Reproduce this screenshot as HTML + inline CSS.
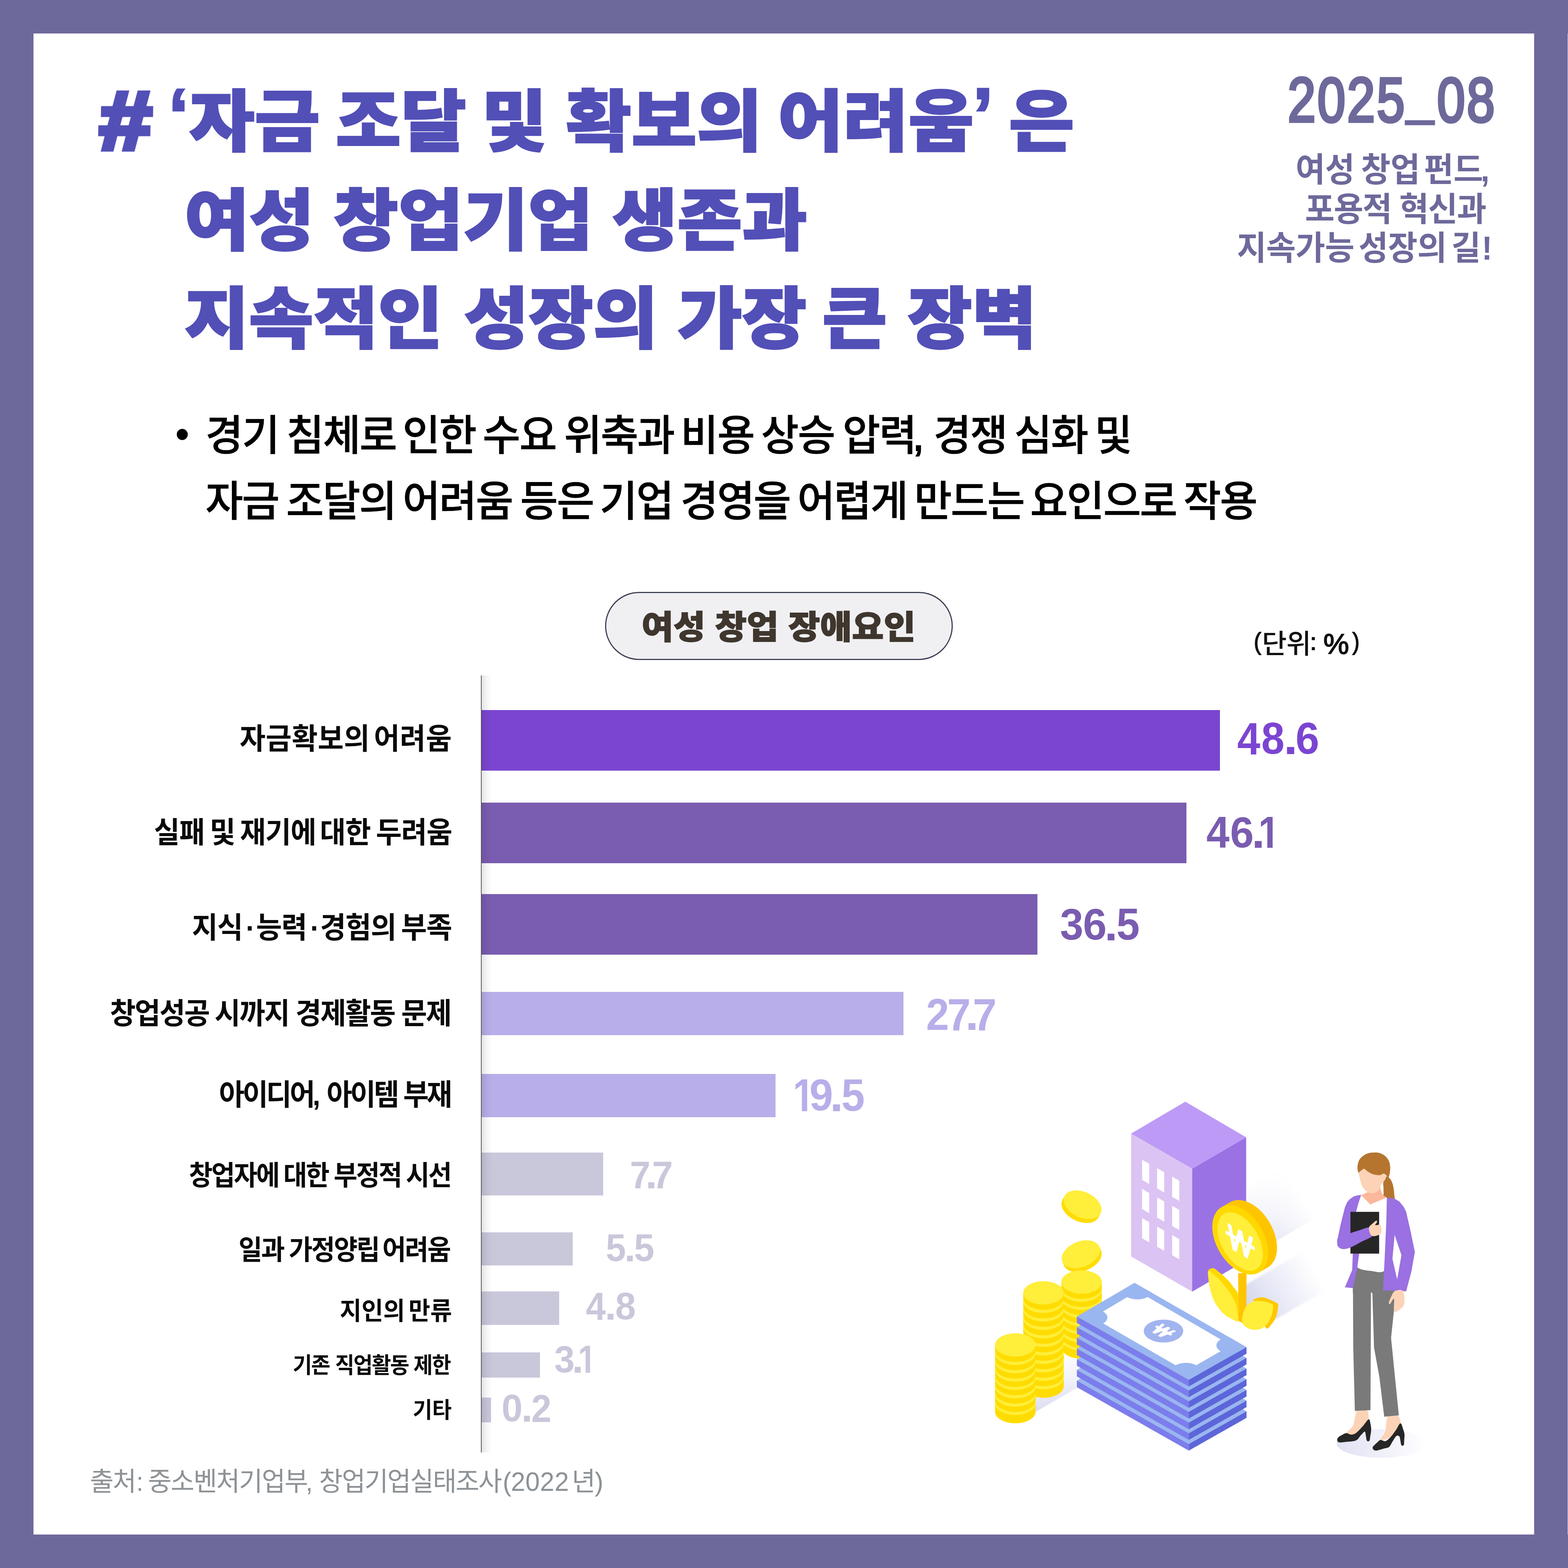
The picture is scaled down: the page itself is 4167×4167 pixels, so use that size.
<!DOCTYPE html>
<html lang="ko">
<head>
<meta charset="utf-8">
<title>여성 창업 장애요인</title>
<style>
html,body{margin:0;padding:0;}
body{width:4167px;height:4167px;overflow:hidden;background:#6d699b;position:relative;
  font-family:"Liberation Sans","Noto Sans CJK KR",sans-serif;}
#card{position:absolute;left:88.8px;top:88.5px;width:3988.3px;height:3989.6px;background:#fff;}
#edge{position:absolute;left:4166px;top:89px;width:1px;height:3989px;background:#e1dff8;}
.t{position:absolute;white-space:pre;line-height:1;margin:0;padding:0;transform-origin:0 0;font-kerning:normal;}
.g{display:inline-block;transform-origin:0 0;}
.title{font-family:"Liberation Sans","Noto Sans CJK KR",sans-serif;font-weight:900;color:#524fb7;-webkit-text-stroke:0.022em currentColor;}
.pt{font-family:"Liberation Sans","Noto Sans CJK KR",sans-serif;font-weight:900;color:#3f372e;-webkit-text-stroke:0.022em currentColor;}
.sub{font-family:"Liberation Sans","Noto Sans CJK KR",sans-serif;font-weight:700;color:#6d699b;}
.date{font-family:"Liberation Sans",sans-serif;font-weight:400;color:#6d699b;-webkit-text-stroke:0.045em currentColor;}
.body{font-family:"Liberation Sans","Noto Sans CJK KR",sans-serif;font-weight:500;color:#000;-webkit-text-stroke:0.008em currentColor;}
.unit{font-family:"Liberation Sans","Noto Sans CJK KR",sans-serif;font-weight:500;color:#111;}
.lab{font-family:"Liberation Sans","Noto Sans CJK KR",sans-serif;font-weight:700;color:#0a0a0a;}
.val{font-family:"Liberation Sans","Noto Sans CJK KR",sans-serif;font-weight:700;}
.val span{position:absolute;display:block;transform-origin:0 0;line-height:1;}
.val .one{clip-path:polygon(0 0,0.3725em 0,0.3725em 1em,0.2325em 1em,0.2325em 0.735em,0 0.735em);}
.src{font-family:"Liberation Sans","Noto Sans CJK KR",sans-serif;font-weight:400;color:#8d9296;}
.bar{position:absolute;left:1280px;}
</style>
</head>
<body>
<div id="card"></div>
<div id="edge"></div>
<!-- chart frame -->
<div id="pill" style="position:absolute;left:1607.5px;top:1572.5px;width:918px;height:175px;border:3px solid #3a3d50;border-radius:91px;background:#f0f0f3;"></div>
<div id="axis" style="position:absolute;left:1278px;top:1795px;width:2px;height:2065px;background:#555;"></div>
<div class="bar" style="top:1887px;width:1962.4px;height:161px;background:#7b45d1;"></div>
<div class="bar" style="top:2133px;width:1873px;height:161px;background:#7a5cb0;"></div>
<div class="bar" style="top:2376px;width:1476.5px;height:161px;background:#7a5cb0;"></div>
<div class="bar" style="top:2635.7px;width:1121px;height:115px;background:#b8aee9;"></div>
<div class="bar" style="top:2853.6px;width:780.5px;height:115px;background:#b8aee9;"></div>
<div class="bar" style="top:3062.7px;width:323.2px;height:114.6px;background:#c9c7da;"></div>
<div class="bar" style="top:3274.7px;width:241.6px;height:88.6px;background:#c9c7da;"></div>
<div class="bar" style="top:3432.4px;width:206.4px;height:89px;background:#c9c7da;"></div>
<div class="bar" style="top:3594.3px;width:155.1px;height:66.7px;background:#c9c7da;"></div>
<div class="bar" style="top:3713.6px;width:25px;height:66.6px;background:#c9c7da;"></div>
<div id="axshade2" style="position:absolute;left:1280px;top:1795px;width:28px;height:2065px;background:linear-gradient(90deg,rgba(30,30,50,.12),rgba(30,30,50,.05) 45%,rgba(30,30,50,0));"></div>
<h1 class="t title" id="t1" style="left:266.58px;top:237.14px;font-size:178px;transform:scaleX(1.06);"><span class="g" style="-webkit-text-stroke:0.06em currentColor;transform:translateY(-24.97px) scale(1.3154,1.2305) skewX(-1deg);">#</span><span class="g"> </span><span class="g" style="margin-left:21.08px;transform:translateY(-31.36px) scale(1.0469,1.1278);">‘</span><span class="g" style="margin-left:3.7px;">자금 </span><span class="g" style="margin-left:-10.1px;">조달 </span><span class="g" style="margin-left:-11.27px;">및 </span><span class="g" style="margin-left:-1.28px;">확보의 </span><span class="g" style="margin-left:-9.89px;">어려움</span><span class="g" style="margin-left:-3.34px;transform:translateY(-32.81px) scale(1.0692,1.1604);">’</span><span class="g"> </span><span class="g" style="margin-left:-7.47px;">은</span></h1>
<h1 class="t title" id="t2" style="left:489.93px;top:499.7px;font-size:178px;transform:scaleX(1.0529);"><span class="g">여성 </span><span class="g" style="margin-left:-0.92px;">창업기업 </span><span class="g" style="margin-left:-0.16px;">생존과</span></h1>
<h1 class="t title" id="t3" style="left:489.9px;top:761.45px;font-size:178px;transform:scaleX(1.048);"><span class="g">지속적인 </span><span class="g" style="margin-left:4.49px;">성장의 </span><span class="g" style="margin-left:0.74px;">가장 </span><span class="g" style="margin-left:-9.56px;">큰 </span><span class="g" style="margin-left:2.62px;">장벽</span></h1>
<div class="t date" id="date" style="left:3422px;top:181.23px;font-size:167.47px;letter-spacing:5.5px;transform:scaleX(0.8);"><span class="g">2025</span><span class="g" style="margin-left:0.71px;transform:translateY(22.49px) scale(0.9571,0.7222);">_</span><span class="g" style="margin-left:2.37px;">08</span></div>
<div class="t sub" id="s1" style="left:3443.15px;top:408.26px;font-size:88.2px;letter-spacing:-0.31px;transform:scaleX(0.97);"><span class="g">여성 </span><span class="g" style="margin-left:-6.71px;">창업 </span><span class="g" style="margin-left:-13.12px;">펀드</span><span class="g" style="margin-left:-6.53px;">,</span></div>
<div class="t sub" id="s2" style="left:3467.62px;top:512.65px;font-size:88.2px;letter-spacing:-2.21px;transform:scaleX(0.97);"><span class="g">포용적 </span><span class="g" style="margin-left:-0.8px;">혁신과</span></div>
<div class="t sub" id="s3" style="left:3287.29px;top:616.1px;font-size:88.2px;letter-spacing:-0.71px;transform:scaleX(0.97);"><span class="g">지속가능 </span><span class="g" style="margin-left:-12.1px;">성장의 </span><span class="g" style="margin-left:-11px;">길</span><span class="g" style="margin-left:2.85px;">!</span></div>
<div class="t body" id="bl" style="left:465.76px;top:1097.68px;font-size:112.4px;"><span class="g" style="transform:translateY(3.53px) scale(0.9355,0.9355);">•</span></div>
<p class="t body" id="b1" style="left:545.78px;top:1102.16px;font-size:112.4px;letter-spacing:-3.06px;transform:scaleX(0.97);"><span class="g">경기 </span><span class="g" style="margin-left:-7.3px;">침체로 </span><span class="g" style="margin-left:-10.89px;">인한 </span><span class="g" style="margin-left:-9.11px;">수요 </span><span class="g" style="margin-left:-6.06px;">위축과 </span><span class="g" style="margin-left:-9.74px;">비용 </span><span class="g" style="margin-left:-8.31px;">상승 </span><span class="g" style="margin-left:-5.69px;">압력</span><span class="g" style="margin-left:-8.79px;-webkit-text-stroke:0.03em currentColor;">, </span><span class="g" style="margin-left:0.65px;">경쟁 </span><span class="g" style="margin-left:-7.43px;">심화 </span><span class="g" style="margin-left:-8.69px;">및</span></p>
<p class="t body" id="b2" style="left:545.79px;top:1277.11px;font-size:112.4px;letter-spacing:-3.34px;transform:scaleX(0.97);"><span class="g">자금 </span><span class="g" style="margin-left:-6.92px;">조달의 </span><span class="g" style="margin-left:-8.96px;">어려움 </span><span class="g" style="margin-left:-5.83px;">등은 </span><span class="g" style="margin-left:-10.36px;">기업 </span><span class="g" style="margin-left:-6.68px;">경영을 </span><span class="g" style="margin-left:-7.86px;">어렵게 </span><span class="g" style="margin-left:-8px;">만드는 </span><span class="g" style="margin-left:-10.32px;">요인으로 </span><span class="g" style="margin-left:-8.26px;">작용</span></p>
<div class="t pt" id="pt" style="left:1704.63px;top:1623.67px;font-size:87.01px;transform:scaleX(1.0574);"><span class="g">여성 </span><span class="g">창업 </span><span class="g">장애요인</span></div>
<div class="t unit" id="unit" style="left:3332.43px;top:1676.18px;font-size:71.61px;letter-spacing:-1.2px;"><span class="g" style="-webkit-text-stroke:0.03em currentColor;transform:translateY(-3.23px) scale(0.8227,0.9072);">(</span><span class="g" style="margin-left:-1.39px;">단위</span><span class="g" style="margin-left:-1.69px;-webkit-text-stroke:0.03em currentColor;transform:translateY(-1.86px) scale(0.9222,0.8800);">:</span><span class="g"> </span><span class="g" style="margin-left:-1.76px;-webkit-text-stroke:0.03em currentColor;transform:translateY(-2.22px) scale(1.0689,1.0547);">%</span><span class="g" style="margin-left:14.68px;-webkit-text-stroke:0.03em currentColor;transform:translateY(-3.23px) scale(0.8000,0.9072);">)</span></div>
<div class="t lab" id="l1" style="left:637px;top:1924.51px;font-size:78.7px;letter-spacing:0.45px;transform:scaleX(0.95);"><span class="g">자금확보의 </span><span class="g" style="margin-left:-11.36px;">어려움</span></div>
<div class="t lab" id="l2" style="left:408.85px;top:2173.77px;font-size:78.7px;letter-spacing:-1.53px;transform:scaleX(0.95);"><span class="g">실패 </span><span class="g" style="margin-left:-6.05px;">및 </span><span class="g" style="margin-left:-6.5px;">재기에 </span><span class="g" style="margin-left:-9.49px;">대한 </span><span class="g" style="margin-left:-5.2px;">두려움</span></div>
<div class="t lab" id="l3" style="left:509.85px;top:2427.11px;font-size:78.7px;letter-spacing:-1.58px;transform:scaleX(0.95);"><span class="g">지식</span><span class="g" style="margin-left:9.2px;">·</span><span class="g" style="margin-left:4.11px;">능력</span><span class="g" style="margin-left:9.83px;">·</span><span class="g" style="margin-left:3.11px;">경험의 </span><span class="g" style="margin-left:-6.47px;">부족</span></div>
<div class="t lab" id="l4" style="left:292.05px;top:2654.96px;font-size:78.7px;letter-spacing:-3.08px;transform:scaleX(0.95);"><span class="g">창업성공 </span><span class="g" style="margin-left:-3.08px;">시까지 </span><span class="g" style="margin-left:-0.25px;">경제활동 </span><span class="g" style="margin-left:-0.61px;">문제</span></div>
<div class="t lab" id="l5" style="left:581.64px;top:2871.02px;font-size:78.7px;letter-spacing:-5.84px;transform:scaleX(0.94);"><span class="g">아이디어</span><span class="g" style="margin-left:-1.62px;">, </span><span class="g" style="margin-left:7.61px;">아이템 </span><span class="g" style="margin-left:0.84px;">부재</span></div>
<div class="t lab" id="l6" style="left:501.58px;top:3087.42px;font-size:73px;letter-spacing:-3.76px;transform:scaleX(0.94);"><span class="g">창업자에 </span><span class="g" style="margin-left:-3.07px;">대한 </span><span class="g" style="margin-left:-1.12px;">부정적 </span><span class="g" style="margin-left:-2.74px;">시선</span></div>
<div class="t lab" id="l7" style="left:634.34px;top:3285.42px;font-size:73px;letter-spacing:-3.46px;transform:scaleX(0.94);"><span class="g">일과 </span><span class="g" style="margin-left:-2.28px;">가정양립 </span><span class="g" style="margin-left:-7.32px;">어려움</span></div>
<div class="t lab" id="l8" style="left:902.65px;top:3450.6px;font-size:66px;letter-spacing:0.05px;transform:scaleX(0.95);"><span class="g">지인의 </span><span class="g" style="margin-left:-8.25px;">만류</span></div>
<div class="t lab" id="l9" style="left:777.58px;top:3599.48px;font-size:59.3px;letter-spacing:-2.65px;transform:scaleX(0.94);"><span class="g">기존 </span><span class="g" style="margin-left:2.06px;">직업활동 </span><span class="g" style="margin-left:0.22px;">제한</span></div>
<div class="t lab" id="l10" style="left:1096.95px;top:3717.68px;font-size:59.3px;letter-spacing:-0.47px;transform:scaleX(0.95);"><span class="g">기타</span></div>
<div class="t src" id="src" style="left:238.82px;top:3902.88px;font-size:70.77px;letter-spacing:-2.73px;transform:scaleX(0.97);"><span class="g">출처</span><span class="g" style="margin-left:2.13px;">: </span><span class="g" style="margin-left:-1.96px;">중소벤처기업부</span><span class="g" style="margin-left:-4.38px;">, </span><span class="g" style="margin-left:2.75px;">창업기업실태조사</span><span class="g" style="margin-left:4.61px;">(</span><span class="g" style="margin-left:1.42px;letter-spacing:0.5px;">2022</span><span class="g" style="margin-left:7.49px;">년</span><span class="g" style="margin-left:0.43px;">)</span></div>
<div class="t val" id="v1" style="left:3289.7px;top:1920.3px;width:212.3px;height:83.7px;font-size:118px;color:#7b45d1;"><span style="left:-1.65px;top:-18.8px;transform:scale(0.935,1.028)">4</span><span style="left:62.58px;top:-17.09px;transform:scale(0.938,0.999)">8</span><span style="left:121px;top:-23.33px;transform:scale(1.150,1.073)">.</span><span style="left:153.44px;top:-17.09px;transform:scale(0.959,0.999)">6</span></div>
<div class="t val" id="v2" style="left:3207.9px;top:2170.3px;width:174.6px;height:82.2px;font-size:118px;color:#7a5cb0;"><span style="left:-1.66px;top:-18.47px;transform:scale(0.936,1.010)">4</span><span style="left:60.64px;top:-16.79px;transform:scale(0.959,0.981)">6</span><span style="left:118px;top:-19.2px;transform:scale(1.090,1.017)">.</span><span class="one" style="left:136.3px;top:-18.47px;transform:scale(0.871,1.010)">1</span></div>
<div class="t val" id="v3" style="left:2820px;top:2415.3px;width:206px;height:82.6px;font-size:118px;color:#7a5cb0;"><span style="left:-2.79px;top:-16.87px;transform:scale(0.945,0.986)">3</span><span style="left:57.93px;top:-16.87px;transform:scale(0.961,0.986)">6</span><span style="left:115.1px;top:-17.67px;transform:scale(1.077,1.006)">.</span><span style="left:147.17px;top:-18.29px;transform:scale(0.941,1.000)">5</span></div>
<div class="t val" id="v4" style="left:2464.5px;top:2654.3px;width:178.5px;height:82.7px;font-size:118px;color:#b8aee9;"><span style="left:-3.85px;top:-17.13px;transform:scale(0.932,1.001)">2</span><span style="left:52.93px;top:-18.58px;transform:scale(0.955,1.016)">7</span><span style="left:100px;top:-19.83px;transform:scale(1.102,1.028)">.</span><span style="left:120.15px;top:-18.58px;transform:scale(0.970,1.016)">7</span></div>
<div class="t val" id="v5" style="left:2114.2px;top:2868.6px;width:180.7px;height:83.9px;font-size:118px;color:#b8aee9;"><span class="one" style="left:-7.22px;top:-18.85px;transform:scale(0.874,1.030)">1</span><span style="left:36.34px;top:-17.13px;transform:scale(0.959,1.001)">9</span><span style="left:90.7px;top:-18.63px;transform:scale(1.102,1.028)">.</span><span style="left:121.45px;top:-18.58px;transform:scale(0.948,1.016)">5</span></div>
<div class="t val" id="v6" style="left:1678.7px;top:3086.5px;width:105.2px;height:70.8px;font-size:100px;color:#c9c7da;"><span style="left:-4.41px;top:-15.9px;transform:scale(0.981,1.026)">7</span><span style="left:36.1px;top:-19.33px;transform:scale(1.143,1.067)">.</span><span style="left:54.53px;top:-15.9px;transform:scale(0.994,1.026)">7</span></div>
<div class="t val" id="v7" style="left:1612.5px;top:3279.9px;width:124.2px;height:71.6px;font-size:100px;color:#c9c7da;"><span style="left:-2.88px;top:-15.85px;transform:scale(0.960,1.023)">5</span><span style="left:46.25px;top:-13.46px;transform:scale(1.079,1.007)">.</span><span style="left:72.79px;top:-15.85px;transform:scale(0.970,1.023)">5</span></div>
<div class="t val" id="v8" style="left:1558.1px;top:3434.9px;width:128.4px;height:72.1px;font-size:100px;color:#c9c7da;"><span style="left:-1.42px;top:-16.2px;transform:scale(0.948,1.045)">4</span><span style="left:49.1px;top:-15.78px;transform:scale(1.114,1.040)">.</span><span style="left:76.75px;top:-14.72px;transform:scale(0.984,1.016)">8</span></div>
<div class="t val" id="v9" style="left:1475.7px;top:3575.7px;width:93.2px;height:71.4px;font-size:100px;color:#c9c7da;"><span style="left:-2.43px;top:-14.58px;transform:scale(0.974,1.006)">3</span><span style="left:44.65px;top:-15.92px;transform:scale(1.107,1.033)">.</span><span class="one" style="left:60.81px;top:-16.04px;transform:scale(0.869,1.035)">1</span></div>
<div class="t val" id="v10" style="left:1337px;top:3705.7px;width:124.8px;height:72.1px;font-size:100px;color:#c9c7da;"><span style="left:-4.01px;top:-14.72px;transform:scale(1.002,1.016)">0</span><span style="left:48.35px;top:-15.22px;transform:scale(1.107,1.033)">.</span><span style="left:75.34px;top:-14.93px;transform:scale(0.960,1.030)">2</span></div>
<svg id="ill" style="position:absolute;left:2560px;top:2880px;" width="1300" height="1060" viewBox="2560 2880 1300 1060">
<defs>
<linearGradient id="shB" gradientUnits="userSpaceOnUse" x1="3311" y1="3350" x2="3500" y2="3241"><stop offset="0" stop-color="#dcdcf1"/><stop offset="0.55" stop-color="#ececf8"/><stop offset="1" stop-color="#ffffff"/></linearGradient>
<linearGradient id="gB" gradientUnits="userSpaceOnUse" x1="3400" y1="3300" x2="3310" y2="3144"><stop offset="0" stop-color="#fff"/><stop offset="1" stop-color="#000"/></linearGradient>
<mask id="mB" maskUnits="userSpaceOnUse" x="3300" y="2990" width="240" height="380"><rect x="3300" y="2990" width="240" height="380" fill="url(#gB)"/></mask>
<linearGradient id="shF" gradientUnits="userSpaceOnUse" x1="3312" y1="3470" x2="3490" y2="3367"><stop offset="0" stop-color="#d6d7ee"/><stop offset="0.45" stop-color="#e9eaf7"/><stop offset="1" stop-color="#ffffff"/></linearGradient>
<filter id="bl3" x="-10%" y="-10%" width="120%" height="120%"><feGaussianBlur stdDeviation="2.5"/></filter>
<linearGradient id="gF" gradientUnits="userSpaceOnUse" x1="3420" y1="3490" x2="3380" y2="3421"><stop offset="0" stop-color="#fff"/><stop offset="1" stop-color="#000"/></linearGradient>
<mask id="mF" maskUnits="userSpaceOnUse" x="3290" y="3270" width="240" height="260"><rect x="3290" y="3270" width="240" height="260" fill="url(#gF)"/></mask>
<linearGradient id="shC" gradientUnits="userSpaceOnUse" x1="2740" y1="3760" x2="2870" y2="3685"><stop offset="0" stop-color="#d9daf0"/><stop offset="1" stop-color="#ededf8"/></linearGradient>
<linearGradient id="gC" gradientUnits="userSpaceOnUse" x1="2800" y1="3724" x2="2750" y2="3637"><stop offset="0" stop-color="#fff"/><stop offset="1" stop-color="#000"/></linearGradient>
<mask id="mC" maskUnits="userSpaceOnUse" x="2690" y="3550" width="190" height="240"><rect x="2690" y="3550" width="190" height="240" fill="url(#gC)"/></mask>
<linearGradient id="shW" gradientUnits="userSpaceOnUse" x1="3555" y1="3850" x2="3790" y2="3815"><stop offset="0" stop-color="#e1e2f4"/><stop offset="0.6" stop-color="#f3f3fb"/><stop offset="1" stop-color="#ffffff"/></linearGradient>
</defs>
<g mask="url(#mB)"><polygon points="3311.7,3343.7 3520.0,3223.6 3520.0,3000.0 3311.7,3000.0" fill="url(#shB)"/></g>
<polygon points="3300.0,3420.0 3520.0,3293.0 3520.0,3431.0 3392.0,3505.0 3300.0,3512.0" fill="url(#shF)" filter="url(#bl3)"/>
<g mask="url(#mC)"><polygon points="2700.0,3782.0 2870.0,3684.0 2870.0,3560.0 2700.0,3658.0" fill="url(#shC)"/></g>
<ellipse cx="3672.0" cy="3836.0" rx="120.0" ry="38.0" fill="url(#shW)"/>
<polygon points="3006.0,3012.6 3168.2,3105.7 3168.2,3432.5 3006.0,3338.9" fill="#dbc4f3"/>
<polygon points="3168.2,3105.7 3311.7,3022.4 3311.7,3349.7 3168.2,3432.5" fill="#9a72e4"/>
<polygon points="3150.1,2927.7 3311.7,3022.4 3168.2,3105.7 3006.0,3012.6" fill="#bd9af6"/>
<polygon points="3035.2,3081.9 3054.1,3092.8 3054.1,3146.4 3035.2,3135.5" fill="#ffffff"/>
<polygon points="3035.2,3159.5 3054.1,3170.4 3054.1,3224.0 3035.2,3213.1" fill="#ffffff"/>
<polygon points="3035.2,3237.1 3054.1,3248.0 3054.1,3301.6 3035.2,3290.7" fill="#ffffff"/>
<polygon points="3075.1,3104.4 3094.0,3115.3 3094.0,3168.9 3075.1,3158.0" fill="#ffffff"/>
<polygon points="3075.1,3182.0 3094.0,3192.9 3094.0,3246.5 3075.1,3235.6" fill="#ffffff"/>
<polygon points="3075.1,3259.6 3094.0,3270.5 3094.0,3324.1 3075.1,3313.2" fill="#ffffff"/>
<polygon points="3115.0,3126.9 3133.9,3137.8 3133.9,3191.4 3115.0,3180.5" fill="#ffffff"/>
<polygon points="3115.0,3204.5 3133.9,3215.4 3133.9,3269.0 3115.0,3258.1" fill="#ffffff"/>
<polygon points="3115.0,3282.1 3133.9,3293.0 3133.9,3346.6 3115.0,3335.7" fill="#ffffff"/>
<polygon points="3290.7,3383.6 3312.5,3383.6 3312.5,3521.4 3300.5,3515.1 3290.7,3510.0" fill="#ffc400"/>
<path d="M3210.8,3378.5 C3209.4,3373.5 3219.3,3370.0 3223.8,3370.2 C3228.4,3370.4 3233.5,3375.9 3238.3,3379.5 C3243.2,3383.1 3248.0,3387.4 3252.8,3391.9 C3257.7,3396.4 3262.8,3401.3 3267.3,3406.4 C3271.8,3411.6 3276.0,3417.6 3279.8,3423.0 C3283.6,3428.3 3288.0,3430.6 3290.1,3438.5 C3292.2,3446.5 3292.0,3459.8 3292.2,3470.6 C3292.4,3481.5 3292.4,3501.7 3291.4,3503.8 C3290.3,3505.8 3288.9,3491.3 3286.0,3483.0 C3283.0,3474.8 3279.1,3463.7 3273.5,3454.1 C3268.0,3444.4 3259.7,3434.0 3252.8,3425.1 C3245.9,3416.1 3239.1,3408.0 3232.1,3400.2 C3225.1,3392.4 3212.2,3383.5 3210.8,3378.5Z" fill="#ffd800"/>
<path d="M3210.8,3378.5 C3212.9,3376.4 3219.3,3382.4 3223.8,3385.7 C3228.4,3389.0 3233.5,3393.3 3238.3,3398.1 C3243.2,3403.0 3248.0,3408.8 3252.8,3414.7 C3257.7,3420.6 3263.2,3427.5 3267.3,3433.3 C3271.5,3439.2 3274.6,3443.7 3277.7,3449.9 C3280.8,3456.1 3284.1,3463.7 3286.0,3470.6 C3287.9,3477.5 3288.3,3484.5 3289.1,3491.3 C3289.8,3498.1 3292.8,3508.9 3290.5,3511.4 C3288.3,3513.9 3281.2,3508.9 3275.6,3506.2 C3270.0,3503.6 3262.8,3500.0 3257.0,3495.5 C3251.1,3490.9 3245.2,3484.8 3240.4,3478.9 C3235.6,3473.0 3231.4,3466.8 3228.0,3460.3 C3224.5,3453.7 3221.9,3446.5 3219.7,3439.6 C3217.5,3432.7 3215.9,3425.8 3214.5,3418.9 C3213.1,3412.0 3212.0,3404.9 3211.4,3398.1 C3210.8,3391.4 3208.7,3380.5 3210.8,3378.5Z" fill="#ffee3a"/>
<path d="M3329.5,3455.1 C3329.8,3453.3 3337.4,3450.5 3341.9,3449.3 C3346.4,3448.1 3351.2,3447.2 3356.4,3447.8 C3361.6,3448.5 3367.9,3451.1 3372.9,3453.0 C3377.9,3454.9 3382.5,3457.2 3386.4,3459.2 C3390.3,3461.3 3394.6,3462.2 3396.1,3465.4 C3397.7,3468.7 3396.1,3474.6 3395.7,3478.9 C3395.3,3483.2 3394.9,3486.8 3393.6,3491.3 C3392.4,3495.8 3391.1,3501.0 3388.5,3505.8 C3385.9,3510.7 3381.7,3516.2 3378.1,3520.3 C3374.5,3524.5 3370.4,3532.1 3366.7,3530.7 C3363.1,3529.3 3358.1,3522.0 3356.4,3512.0 C3354.6,3502.0 3359.1,3479.3 3356.4,3470.6 C3353.6,3462.0 3344.3,3462.9 3339.8,3460.3 C3335.3,3457.7 3329.1,3456.9 3329.5,3455.1Z" fill="#ffc800"/>
<path d="M3300.9,3513.1 C3300.2,3508.5 3301.4,3501.2 3302.5,3495.5 C3303.7,3489.8 3304.9,3484.1 3307.7,3478.9 C3310.5,3473.7 3314.4,3468.0 3319.1,3464.4 C3323.8,3460.8 3329.5,3458.2 3335.7,3457.2 C3341.9,3456.1 3349.5,3457.2 3356.4,3458.2 C3363.3,3459.2 3372.6,3461.6 3377.1,3463.4 C3381.6,3465.2 3382.4,3465.7 3383.3,3469.0 C3384.2,3472.2 3383.3,3477.6 3382.3,3483.0 C3381.2,3488.5 3379.7,3495.6 3377.1,3501.7 C3374.5,3507.7 3370.9,3514.5 3366.7,3519.3 C3362.6,3524.1 3357.4,3528.2 3352.2,3530.7 C3347.1,3533.1 3341.2,3533.9 3335.7,3534.0 C3330.1,3534.1 3323.9,3533.0 3319.1,3531.1 C3314.3,3529.2 3309.7,3525.8 3306.7,3522.8 C3303.6,3519.8 3301.6,3517.6 3300.9,3513.1Z" fill="#ffee3a"/>
<ellipse cx="3319.4" cy="3281.3" rx="100.0" ry="63.4" fill="#ffc400" transform="rotate(60.0 3319.4 3281.3)"/>
<polygon points="3245.9,3208.2 3269.4,3194.7 3369.4,3367.9 3345.9,3381.4" fill="#ffc400"/>
<ellipse cx="3295.9" cy="3294.8" rx="100.0" ry="63.4" fill="#ffd800" transform="rotate(60.0 3295.9 3294.8)"/>
<ellipse cx="3295.8" cy="3299.2" rx="85.0" ry="49.5" fill="#ffee3a" transform="rotate(60.0 3295.8 3299.2)"/>
<text x="0" y="0" transform="matrix(0.866,0.5,0,0.87,3296,3302)" font-family="NanumGothic,'Noto Sans CJK KR',sans-serif" font-weight="700" font-size="100" fill="#ffffff" stroke="#ffffff" stroke-width="1.5" text-anchor="middle" dominant-baseline="central">₩</text>
<ellipse cx="2871.2" cy="3211.9" rx="53.2" ry="34.1" fill="#ffdc00" transform="rotate(25.0 2871.2 3211.9)"/>
<polygon points="2828.6,3179.2 2823.0,3189.4 2919.4,3234.4 2925.0,3224.2" fill="#ffdc00"/>
<ellipse cx="2876.8" cy="3201.7" rx="53.2" ry="34.1" fill="#ffee3a" transform="rotate(25.0 2876.8 3201.7)"/>
<ellipse cx="2876.8" cy="3343.3" rx="53.0" ry="34.0" fill="#ffdc00" transform="rotate(-22.0 2876.8 3343.3)"/>
<polygon points="2823.2,3353.2 2827.7,3363.2 2925.9,3323.4 2921.4,3313.4" fill="#ffdc00"/>
<ellipse cx="2872.3" cy="3333.3" rx="53.0" ry="34.0" fill="#ffee3a" transform="rotate(-22.0 2872.3 3333.3)"/>
<path d="M2820.6,3558.4 L2820.6,3580.0 A53.8,31.0 0 0 0 2928.2,3580.0 L2928.2,3558.4 Z" fill="#ffdc00"/>
<ellipse cx="2874.4" cy="3558.4" rx="53.8" ry="31.0" fill="#ffee3a"/>
<path d="M2820.6,3536.8 L2820.6,3550.6 A53.8,31.0 0 0 0 2928.2,3550.6 L2928.2,3536.8 Z" fill="#ffdc00"/>
<ellipse cx="2874.4" cy="3536.8" rx="53.8" ry="31.0" fill="#ffee3a"/>
<path d="M2820.6,3515.1 L2820.6,3529.0 A53.8,31.0 0 0 0 2928.2,3529.0 L2928.2,3515.1 Z" fill="#ffdc00"/>
<ellipse cx="2874.4" cy="3515.1" rx="53.8" ry="31.0" fill="#ffee3a"/>
<path d="M2820.6,3493.5 L2820.6,3507.3 A53.8,31.0 0 0 0 2928.2,3507.3 L2928.2,3493.5 Z" fill="#ffdc00"/>
<ellipse cx="2874.4" cy="3493.5" rx="53.8" ry="31.0" fill="#ffee3a"/>
<path d="M2820.6,3471.9 L2820.6,3485.7 A53.8,31.0 0 0 0 2928.2,3485.7 L2928.2,3471.9 Z" fill="#ffdc00"/>
<ellipse cx="2874.4" cy="3471.9" rx="53.8" ry="31.0" fill="#ffee3a"/>
<path d="M2820.6,3450.2 L2820.6,3464.1 A53.8,31.0 0 0 0 2928.2,3464.1 L2928.2,3450.2 Z" fill="#ffdc00"/>
<ellipse cx="2874.4" cy="3450.2" rx="53.8" ry="31.0" fill="#ffee3a"/>
<path d="M2820.6,3428.6 L2820.6,3442.5 A53.8,31.0 0 0 0 2928.2,3442.5 L2928.2,3428.6 Z" fill="#ffdc00"/>
<ellipse cx="2874.4" cy="3428.6" rx="53.8" ry="31.0" fill="#ffee3a"/>
<path d="M2820.6,3407.0 L2820.6,3420.8 A53.8,31.0 0 0 0 2928.2,3420.8 L2928.2,3407.0 Z" fill="#ffdc00"/>
<ellipse cx="2874.4" cy="3407.0" rx="53.8" ry="31.0" fill="#ffee3a"/>
<path d="M2719.3,3661.3 L2719.3,3683.8 A53.8,31.0 0 0 0 2826.9,3683.8 L2826.9,3661.3 Z" fill="#ffdc00"/>
<ellipse cx="2773.1" cy="3661.3" rx="53.8" ry="31.0" fill="#ffee3a"/>
<path d="M2719.3,3638.7 L2719.3,3653.1 A53.8,31.0 0 0 0 2826.9,3653.1 L2826.9,3638.7 Z" fill="#ffdc00"/>
<ellipse cx="2773.1" cy="3638.7" rx="53.8" ry="31.0" fill="#ffee3a"/>
<path d="M2719.3,3616.2 L2719.3,3630.6 A53.8,31.0 0 0 0 2826.9,3630.6 L2826.9,3616.2 Z" fill="#ffdc00"/>
<ellipse cx="2773.1" cy="3616.2" rx="53.8" ry="31.0" fill="#ffee3a"/>
<path d="M2719.3,3593.6 L2719.3,3608.0 A53.8,31.0 0 0 0 2826.9,3608.0 L2826.9,3593.6 Z" fill="#ffdc00"/>
<ellipse cx="2773.1" cy="3593.6" rx="53.8" ry="31.0" fill="#ffee3a"/>
<path d="M2719.3,3571.1 L2719.3,3585.5 A53.8,31.0 0 0 0 2826.9,3585.5 L2826.9,3571.1 Z" fill="#ffdc00"/>
<ellipse cx="2773.1" cy="3571.1" rx="53.8" ry="31.0" fill="#ffee3a"/>
<path d="M2719.3,3548.5 L2719.3,3563.0 A53.8,31.0 0 0 0 2826.9,3563.0 L2826.9,3548.5 Z" fill="#ffdc00"/>
<ellipse cx="2773.1" cy="3548.5" rx="53.8" ry="31.0" fill="#ffee3a"/>
<path d="M2719.3,3526.0 L2719.3,3540.4 A53.8,31.0 0 0 0 2826.9,3540.4 L2826.9,3526.0 Z" fill="#ffdc00"/>
<ellipse cx="2773.1" cy="3526.0" rx="53.8" ry="31.0" fill="#ffee3a"/>
<path d="M2719.3,3503.4 L2719.3,3517.9 A53.8,31.0 0 0 0 2826.9,3517.9 L2826.9,3503.4 Z" fill="#ffdc00"/>
<ellipse cx="2773.1" cy="3503.4" rx="53.8" ry="31.0" fill="#ffee3a"/>
<path d="M2719.3,3480.9 L2719.3,3495.3 A53.8,31.0 0 0 0 2826.9,3495.3 L2826.9,3480.9 Z" fill="#ffdc00"/>
<ellipse cx="2773.1" cy="3480.9" rx="53.8" ry="31.0" fill="#ffee3a"/>
<path d="M2719.3,3458.3 L2719.3,3472.8 A53.8,31.0 0 0 0 2826.9,3472.8 L2826.9,3458.3 Z" fill="#ffdc00"/>
<ellipse cx="2773.1" cy="3458.3" rx="53.8" ry="31.0" fill="#ffee3a"/>
<path d="M2719.3,3435.8 L2719.3,3450.2 A53.8,31.0 0 0 0 2826.9,3450.2 L2826.9,3435.8 Z" fill="#ffdc00"/>
<ellipse cx="2773.1" cy="3435.8" rx="53.8" ry="31.0" fill="#ffee3a"/>
<path d="M2644.4,3729.4 L2644.4,3751.6 A53.8,31.0 0 0 0 2752.0,3751.6 L2752.0,3729.4 Z" fill="#ffdc00"/>
<ellipse cx="2698.2" cy="3729.4" rx="53.8" ry="31.0" fill="#ffee3a"/>
<path d="M2644.4,3707.3 L2644.4,3721.5 A53.8,31.0 0 0 0 2752.0,3721.5 L2752.0,3707.3 Z" fill="#ffdc00"/>
<ellipse cx="2698.2" cy="3707.3" rx="53.8" ry="31.0" fill="#ffee3a"/>
<path d="M2644.4,3685.1 L2644.4,3699.3 A53.8,31.0 0 0 0 2752.0,3699.3 L2752.0,3685.1 Z" fill="#ffdc00"/>
<ellipse cx="2698.2" cy="3685.1" rx="53.8" ry="31.0" fill="#ffee3a"/>
<path d="M2644.4,3662.9 L2644.4,3677.1 A53.8,31.0 0 0 0 2752.0,3677.1 L2752.0,3662.9 Z" fill="#ffdc00"/>
<ellipse cx="2698.2" cy="3662.9" rx="53.8" ry="31.0" fill="#ffee3a"/>
<path d="M2644.4,3640.8 L2644.4,3655.0 A53.8,31.0 0 0 0 2752.0,3655.0 L2752.0,3640.8 Z" fill="#ffdc00"/>
<ellipse cx="2698.2" cy="3640.8" rx="53.8" ry="31.0" fill="#ffee3a"/>
<path d="M2644.4,3618.6 L2644.4,3632.8 A53.8,31.0 0 0 0 2752.0,3632.8 L2752.0,3618.6 Z" fill="#ffdc00"/>
<ellipse cx="2698.2" cy="3618.6" rx="53.8" ry="31.0" fill="#ffee3a"/>
<path d="M2644.4,3596.5 L2644.4,3610.6 A53.8,31.0 0 0 0 2752.0,3610.6 L2752.0,3596.5 Z" fill="#ffdc00"/>
<ellipse cx="2698.2" cy="3596.5" rx="53.8" ry="31.0" fill="#ffee3a"/>
<path d="M2644.4,3574.3 L2644.4,3588.5 A53.8,31.0 0 0 0 2752.0,3588.5 L2752.0,3574.3 Z" fill="#ffdc00"/>
<ellipse cx="2698.2" cy="3574.3" rx="53.8" ry="31.0" fill="#ffee3a"/>
<polygon points="3015.2,3579.6 3312.6,3750.5 3159.3,3837.5 2861.9,3669.0" fill="#9ab6f0"/>
<polygon points="2861.9,3669.0 3159.3,3837.5 3159.3,3855.0 2861.9,3686.5" fill="#7c7dec"/>
<polygon points="3159.3,3837.5 3312.6,3750.5 3312.6,3768.0 3159.3,3855.0" fill="#5c66d9"/>
<polygon points="3015.2,3551.2 3312.6,3722.1 3159.3,3809.1 2861.9,3640.6" fill="#9ab6f0"/>
<polygon points="2861.9,3640.6 3159.3,3809.1 3159.3,3826.6 2861.9,3658.1" fill="#7c7dec"/>
<polygon points="3159.3,3809.1 3312.6,3722.1 3312.6,3739.6 3159.3,3826.6" fill="#5c66d9"/>
<polygon points="3015.2,3522.8 3312.6,3693.7 3159.3,3780.7 2861.9,3612.2" fill="#9ab6f0"/>
<polygon points="2861.9,3612.2 3159.3,3780.7 3159.3,3798.2 2861.9,3629.7" fill="#7c7dec"/>
<polygon points="3159.3,3780.7 3312.6,3693.7 3312.6,3711.2 3159.3,3798.2" fill="#5c66d9"/>
<polygon points="3015.2,3494.4 3312.6,3665.3 3159.3,3752.3 2861.9,3583.8" fill="#9ab6f0"/>
<polygon points="2861.9,3583.8 3159.3,3752.3 3159.3,3769.8 2861.9,3601.3" fill="#7c7dec"/>
<polygon points="3159.3,3752.3 3312.6,3665.3 3312.6,3682.8 3159.3,3769.8" fill="#5c66d9"/>
<polygon points="3015.2,3466.0 3312.6,3636.9 3159.3,3723.9 2861.9,3555.4" fill="#9ab6f0"/>
<polygon points="2861.9,3555.4 3159.3,3723.9 3159.3,3741.4 2861.9,3572.9" fill="#7c7dec"/>
<polygon points="3159.3,3723.9 3312.6,3636.9 3312.6,3654.4 3159.3,3741.4" fill="#5c66d9"/>
<polygon points="3015.2,3437.6 3312.6,3608.5 3159.3,3695.5 2861.9,3527.0" fill="#9ab6f0"/>
<polygon points="2861.9,3527.0 3159.3,3695.5 3159.3,3713.0 2861.9,3544.5" fill="#7c7dec"/>
<polygon points="3159.3,3695.5 3312.6,3608.5 3312.6,3626.0 3159.3,3713.0" fill="#5c66d9"/>
<polygon points="3015.2,3409.2 3312.6,3580.1 3159.3,3667.1 2861.9,3498.6" fill="#9ab6f0"/>
<polygon points="2861.9,3498.6 3159.3,3667.1 3159.3,3684.6 2861.9,3516.1" fill="#7c7dec"/>
<polygon points="3159.3,3667.1 3312.6,3580.1 3312.6,3597.6 3159.3,3684.6" fill="#5c66d9"/>
<polygon points="3022.4,3431.0 3271.1,3575.2 3151.6,3644.0 2904.5,3501.3" fill="#ffffff"/>
<clipPath id="faceclip"><polygon points="3015.2,3409.2 3312.6,3580.1 3159.3,3667.1 2861.9,3498.6"/></clipPath>
<g clip-path="url(#faceclip)">
<ellipse cx="3022.4" cy="3431.0" rx="38.5" ry="22.2" fill="#9ab6f0"/>
<ellipse cx="2904.5" cy="3501.3" rx="38.5" ry="22.2" fill="#9ab6f0"/>
<ellipse cx="3271.1" cy="3575.2" rx="38.5" ry="22.2" fill="#9ab6f0"/>
<ellipse cx="3151.6" cy="3644.0" rx="38.5" ry="22.2" fill="#9ab6f0"/>
</g>
<ellipse cx="3092.0" cy="3537.3" rx="52.4" ry="30.4" fill="#a2b4ef"/>
<text x="0" y="0" transform="matrix(0.866,0.5,-0.866,0.5,3089.8,3537.6)" font-family="NanumGothic,'Noto Sans CJK KR',sans-serif" font-weight="700" font-size="52" fill="#ffffff" stroke="#ffffff" stroke-width="2.2" stroke-linejoin="round" text-anchor="middle" dominant-baseline="central">₩</text>
<path d="M3683.4,3126.7 C3685.2,3125.4 3687.8,3127.0 3690.0,3128.5 C3692.1,3130.1 3694.6,3132.9 3696.5,3136.0 C3698.4,3139.1 3699.9,3143.0 3701.2,3147.2 C3702.4,3151.4 3703.2,3156.5 3704.0,3161.2 C3704.7,3165.8 3705.2,3170.5 3705.4,3175.1 C3705.7,3179.8 3707.9,3186.5 3705.6,3189.1 C3703.4,3191.8 3696.6,3191.6 3691.8,3191.0 C3687.1,3190.4 3679.6,3188.8 3677.1,3185.4 C3674.6,3182.0 3677.0,3175.3 3676.9,3170.5 C3676.8,3165.7 3676.7,3161.2 3676.6,3156.5 C3676.4,3151.8 3675.5,3145.9 3676.0,3142.5 C3676.5,3139.1 3678.5,3138.6 3679.7,3136.0 C3681.0,3133.4 3681.7,3127.9 3683.4,3126.7Z" fill="#b5752f"/>
<path d="M3606.7,3748.2 C3612.7,3741.4 3627.0,3743.3 3632.0,3747.4 C3637.0,3751.5 3638.4,3765.1 3636.7,3772.8 C3635.0,3780.5 3627.6,3787.3 3621.7,3793.5 C3615.7,3799.8 3608.3,3807.8 3601.0,3810.4 C3593.6,3812.9 3578.5,3812.7 3577.7,3809.1 C3576.8,3805.4 3591.0,3798.5 3595.8,3788.3 C3600.6,3778.2 3600.6,3755.0 3606.7,3748.2Z" fill="#fcd3b6"/>
<path d="M3688.5,3763.8 C3694.0,3756.8 3708.8,3758.7 3714.4,3761.9 C3719.9,3765.2 3722.8,3776.2 3721.6,3783.2 C3720.4,3790.2 3711.3,3798.2 3707.1,3803.9 C3703.0,3809.6 3703.2,3813.5 3696.8,3817.3 C3690.3,3821.2 3670.9,3829.4 3668.3,3827.2 C3665.7,3824.9 3677.9,3814.5 3681.2,3803.9 C3684.6,3793.3 3683.0,3770.7 3688.5,3763.8Z" fill="#fcd3b6"/>
<polygon points="3595.3,3361.2 3645.0,3361.2 3643.4,3436.2 3642.1,3747.4 3600.5,3749.5 3596.3,3581.2" fill="#7a7a7a"/>
<polygon points="3643.7,3361.2 3709.7,3361.2 3707.1,3431.1 3704.5,3482.8 3696.8,3555.3 3707.1,3658.9 3717.5,3761.2 3678.6,3765.0 3665.7,3658.9 3651.5,3581.2 3647.1,3436.2" fill="#7a7a7a"/>
<polygon points="3595.3,3361.2 3709.7,3361.2 3707.6,3425.9 3704.5,3435.0 3647.1,3436.8 3644.5,3434.2 3641.9,3436.8 3595.3,3436.8" fill="#7a7a7a"/>
<path d="M3553.6,3825.9 C3553.5,3823.5 3555.4,3820.9 3557.5,3818.9 C3559.5,3816.9 3562.7,3815.4 3566.0,3813.7 C3569.4,3812.0 3573.6,3808.8 3577.7,3808.5 C3581.8,3808.3 3586.3,3812.5 3590.6,3812.4 C3594.9,3812.4 3598.4,3812.0 3603.6,3808.3 C3608.7,3804.6 3616.0,3796.2 3621.7,3790.2 C3627.3,3784.1 3634.0,3772.5 3637.5,3771.8 C3640.9,3771.0 3641.3,3781.1 3642.4,3785.8 C3643.5,3790.5 3644.1,3794.8 3643.9,3800.0 C3643.8,3805.2 3642.4,3812.0 3641.6,3816.8 C3640.8,3821.6 3640.8,3826.8 3639.3,3828.7 C3637.8,3830.7 3634.1,3830.7 3632.6,3828.7 C3631.0,3826.8 3630.9,3820.9 3630.0,3816.8 C3629.0,3812.8 3629.1,3804.8 3626.9,3804.4 C3624.6,3804.0 3620.4,3810.3 3616.5,3814.2 C3612.6,3818.2 3610.0,3825.0 3603.6,3828.0 C3597.1,3830.9 3585.2,3831.0 3577.7,3831.8 C3570.1,3832.7 3562.3,3834.1 3558.3,3833.1 C3554.2,3832.1 3553.7,3828.3 3553.6,3825.9Z" fill="#262626"/>
<path d="M3647.8,3846.3 C3648.3,3844.3 3650.6,3842.4 3652.8,3840.1 C3654.9,3837.9 3657.8,3835.1 3660.5,3832.9 C3663.2,3830.6 3665.1,3827.2 3668.8,3826.7 C3672.5,3826.1 3677.9,3831.3 3682.5,3829.8 C3687.2,3828.3 3692.2,3822.5 3696.8,3817.6 C3701.3,3812.7 3705.6,3806.1 3709.7,3800.3 C3713.9,3794.4 3718.4,3782.7 3721.6,3782.4 C3724.9,3782.1 3727.3,3793.7 3729.1,3798.7 C3730.9,3803.7 3732.1,3807.4 3732.5,3812.2 C3732.9,3816.9 3732.1,3822.5 3731.7,3827.2 C3731.4,3831.9 3731.7,3838.2 3730.4,3840.4 C3729.2,3842.6 3725.7,3842.4 3724.2,3840.4 C3722.7,3838.4 3722.5,3832.3 3721.6,3828.5 C3720.7,3824.6 3720.5,3819.4 3718.8,3817.3 C3717.0,3815.3 3714.0,3813.8 3711.0,3816.1 C3708.0,3818.3 3703.9,3826.2 3700.6,3831.1 C3697.4,3835.9 3695.7,3842.2 3691.6,3845.3 C3687.5,3848.5 3681.7,3848.4 3676.1,3850.0 C3670.4,3851.6 3662.2,3854.5 3657.9,3854.9 C3653.6,3855.3 3651.8,3854.0 3650.2,3852.6 C3648.5,3851.1 3647.4,3848.4 3647.8,3846.3Z" fill="#262626"/>
<polygon points="3613.9,3177.2 3686.8,3182.9 3682.2,3377.6 3607.1,3368.5 3600.2,3247.8" fill="#ffffff"/>
<path d="M3607.1,3334.4 C3618.9,3329.8 3665.9,3327.1 3677.7,3334.4 C3689.4,3341.6 3683.8,3370.5 3677.7,3377.6 C3671.6,3384.8 3651.9,3378.1 3641.2,3377.2 C3630.6,3376.2 3619.7,3374.5 3613.9,3371.9 C3608.1,3369.4 3607.7,3367.9 3606.6,3361.7 C3605.5,3355.4 3595.2,3338.9 3607.1,3334.4Z" fill="#ffffff"/>
<path d="M3635.9,3167.7 L3617.3,3176.1 L3641.5,3201.0 L3685.3,3182.6 L3676.9,3177.0 L3672.3,3170.5 L3669.0,3161.2 L3667.6,3150.0 L3645.2,3151.8 Z" fill="#fbb89b"/>
<path d="M3617.3,3175.6 L3607.1,3176.7 L3597.9,3179.5 L3587.7,3186.3 L3579.7,3195.4 L3574.0,3209.1 L3568.3,3231.8 L3561.5,3259.2 L3556.9,3282.0 L3553.5,3300.2 L3554.7,3309.3 L3568.3,3316.1 L3595.7,3316.1 L3593.4,3375.4 L3574.0,3420.9 L3595.7,3423.2 L3607.1,3368.5 L3612.1,3331.6 L3609.3,3270.6 L3602.5,3225.0 L3609.3,3200.0 Z" fill="#9a70e2"/>
<polygon points="3588.8,3220.5 3665.1,3220.5 3665.1,3331.6 3588.8,3331.6" fill="#262626"/>
<path d="M3555.8,3288.8 C3553.0,3292.2 3553.3,3298.3 3553.5,3302.5 C3553.7,3306.6 3554.1,3311.0 3556.9,3313.8 C3559.8,3316.7 3564.9,3319.7 3570.6,3319.8 C3576.3,3319.8 3583.1,3317.6 3591.1,3314.3 C3599.1,3311.0 3609.3,3304.5 3618.5,3299.7 C3627.6,3294.9 3642.3,3289.9 3646.2,3285.4 C3650.2,3280.9 3643.8,3276.7 3642.4,3272.8 C3640.9,3269.0 3642.9,3262.5 3637.4,3262.1 C3631.9,3261.8 3617.4,3268.1 3609.3,3270.6 C3601.3,3273.0 3595.7,3275.0 3589.3,3276.9 C3582.8,3278.8 3576.2,3280.0 3570.6,3282.0 C3565.0,3283.9 3558.7,3285.4 3555.8,3288.8Z" fill="#9a70e2"/>
<path d="M3637.8,3263.3 C3638.2,3257.8 3644.8,3254.4 3648.1,3251.2 C3651.3,3248.0 3655.3,3244.5 3657.2,3243.9 C3659.1,3243.3 3659.8,3245.8 3659.5,3247.8 C3659.1,3249.8 3653.6,3254.5 3654.9,3255.8 C3656.2,3257.0 3664.8,3253.4 3667.4,3255.1 C3670.1,3256.8 3670.7,3261.9 3670.8,3266.0 C3671.0,3270.1 3672.3,3276.6 3668.1,3279.7 C3663.9,3282.7 3650.8,3287.0 3645.8,3284.2 C3640.7,3281.5 3637.4,3268.8 3637.8,3263.3Z" fill="#fcd3b6"/>
<path d="M3685.6,3182.2 L3705.0,3185.1 L3718.7,3193.1 L3730.1,3206.8 L3736.9,3220.5 L3748.3,3270.6 L3760.1,3327.5 L3750.6,3379.9 L3736.9,3431.8 L3707.3,3430.0 L3675.4,3429.6 L3680.0,3338.9 L3684.1,3247.8 Z" fill="#9a70e2"/>
<polygon points="3706.2,3282.0 3724.4,3335.5 3713.0,3400.0 3700.5,3345.7" fill="#ffffff"/>
<path d="M3707.1,3431.1 C3712.1,3428.8 3723.6,3425.8 3727.8,3430.6 C3732.1,3435.3 3732.8,3452.1 3732.5,3459.5 C3732.1,3467.0 3730.2,3470.8 3725.8,3475.1 C3721.3,3479.4 3709.4,3489.3 3705.8,3485.4 C3702.3,3481.6 3706.5,3455.1 3704.5,3451.8 C3702.6,3448.4 3696.4,3463.7 3694.2,3465.2 C3691.9,3466.8 3690.4,3464.6 3691.1,3461.1 C3691.7,3457.6 3695.4,3449.0 3698.1,3444.0 C3700.7,3439.0 3702.2,3433.3 3707.1,3431.1Z" fill="#fcd3b6"/>
<path d="M3610.8,3114.6 C3609.9,3117.4 3611.5,3120.5 3612.2,3123.9 C3612.8,3127.3 3613.7,3131.8 3614.5,3135.1 C3615.3,3138.3 3615.7,3140.2 3616.8,3143.4 C3617.9,3146.7 3619.1,3151.4 3621.0,3154.6 C3622.9,3157.9 3626.0,3160.7 3628.5,3163.0 C3630.9,3165.3 3633.1,3167.2 3635.9,3168.6 C3638.7,3170.0 3642.1,3171.2 3645.2,3171.4 C3648.3,3171.6 3651.8,3171.1 3654.6,3170.0 C3657.4,3168.9 3660.0,3167.1 3662.0,3164.9 C3664.0,3162.6 3665.4,3159.1 3666.7,3156.5 C3668.0,3153.9 3668.8,3151.8 3669.9,3149.5 C3671.1,3147.3 3672.2,3144.9 3673.7,3143.0 C3675.1,3141.0 3677.3,3139.8 3678.8,3137.9 C3680.3,3135.9 3681.7,3133.4 3682.5,3131.3 C3683.3,3129.3 3683.7,3127.4 3683.6,3125.7 C3683.6,3124.0 3682.9,3122.1 3682.1,3121.1 C3681.2,3120.0 3680.3,3119.6 3678.8,3119.4 C3677.3,3119.2 3675.7,3121.0 3673.2,3120.1 C3670.7,3119.3 3670.1,3117.0 3663.9,3114.6 C3657.7,3112.1 3643.7,3106.5 3635.9,3105.2 C3628.2,3104.0 3621.5,3105.5 3617.3,3107.1 C3613.1,3108.7 3611.6,3111.8 3610.8,3114.6Z" fill="#fcd3b6"/>
<path d="M3609.6,3116.0 C3608.8,3114.4 3607.8,3108.6 3607.6,3105.2 C3607.3,3101.9 3607.5,3099.5 3608.1,3095.9 C3608.8,3092.3 3609.9,3087.4 3611.7,3083.8 C3613.5,3080.2 3616.0,3077.3 3619.1,3074.5 C3622.2,3071.7 3626.3,3068.9 3630.3,3067.0 C3634.4,3065.2 3638.9,3064.0 3643.4,3063.3 C3647.9,3062.6 3653.0,3062.5 3657.4,3062.8 C3661.7,3063.1 3665.6,3063.7 3669.5,3065.2 C3673.4,3066.6 3677.5,3069.2 3680.7,3071.7 C3683.8,3074.2 3686.1,3077.0 3688.1,3080.1 C3690.1,3083.2 3691.7,3086.9 3692.8,3090.3 C3693.8,3093.7 3694.2,3097.2 3694.4,3100.6 C3694.7,3104.0 3694.6,3107.3 3694.3,3110.8 C3693.9,3114.4 3693.1,3119.0 3692.4,3122.0 C3691.7,3125.0 3691.3,3128.4 3690.0,3128.7 C3688.6,3129.0 3686.2,3125.5 3684.4,3123.9 C3682.5,3122.3 3680.8,3119.8 3679.0,3119.2 C3677.1,3118.6 3674.9,3119.7 3673.2,3120.3 C3671.5,3120.9 3671.2,3122.4 3668.5,3122.8 C3665.9,3123.1 3661.2,3123.2 3657.4,3122.6 C3653.5,3122.0 3648.5,3120.4 3645.2,3119.2 C3642.0,3118.0 3640.0,3116.6 3637.8,3115.3 C3635.6,3114.0 3633.8,3112.8 3632.2,3111.6 C3630.6,3110.3 3629.2,3108.8 3628.0,3107.8 C3626.8,3106.9 3625.9,3106.0 3624.7,3106.0 C3623.6,3106.0 3622.2,3107.0 3621.0,3107.8 C3619.8,3108.7 3618.7,3109.7 3617.3,3110.8 C3615.9,3111.9 3613.9,3113.7 3612.6,3114.6 C3611.3,3115.4 3610.5,3117.5 3609.6,3116.0Z" fill="#b5752f"/>
</svg>
</body>
</html>
